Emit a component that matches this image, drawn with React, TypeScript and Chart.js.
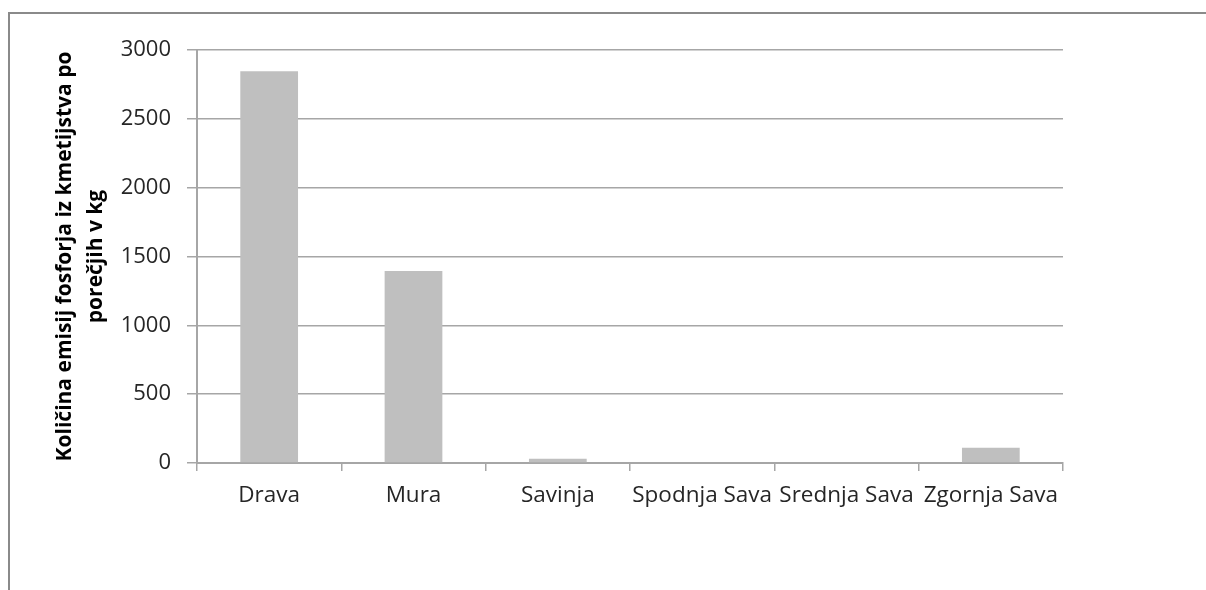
import React, { useEffect, useRef } from "react";
import { Chart, registerables } from "chart.js";

Chart.register(...registerables);

const categories = ["Drava", "Mura", "Savinja", "Spodnja Sava", "Srednja Sava", "Zgornja Sava"];
const emissions = [2845, 1395, 30, 0, 0, 110];
const yTitle = ["Količina emisij fosforja iz kmetijstva po", "porečjih v kg"];
const yMin = 0;
const yMax = 3000;
const yStep = 500;

export default function App() {
  const ref = useRef<HTMLCanvasElement | null>(null);

  useEffect(() => {
    document.body.style.margin = "0";
    const canvas = ref.current;
    if (!canvas) return;
    const chart = new Chart(canvas, {
      type: "bar",
      data: {
        labels: categories,
        datasets: [
          {
            data: emissions,
            backgroundColor: "#bfbfbf",
            borderWidth: 0,
            barPercentage: 0.4,
            categoryPercentage: 1,
          },
        ],
      },
      options: {
        responsive: false,
        animation: false,
        layout: { padding: { top: 50, right: 143, left: 0, bottom: 0 } },
        plugins: { legend: { display: false }, tooltip: { enabled: false }, title: { display: false } },
        scales: {
          x: {
            grid: {
              display: true,
              drawOnChartArea: false,
              drawTicks: true,
              tickLength: 8,
              color: "#a6a6a6",
              lineWidth: 1.5,
              offset: true,
            },
            border: { display: true, color: "#a6a6a6", width: 2 },
            ticks: {
              color: "#262626",
              font: { family: "'Open Sans'", size: 22.5 },
              padding: 11,
              maxRotation: 0,
              autoSkip: false,
            },
            afterFit: (scale: any) => {
              scale.height = 127;
            },
          },
          y: {
            min: yMin,
            max: yMax,
            grid: {
              color: "#a6a6a6",
              lineWidth: 1.5,
              drawTicks: true,
              tickLength: 10,
            },
            border: { display: true, color: "#a6a6a6", width: 2 },
            ticks: {
              stepSize: yStep,
              color: "#262626",
              font: { family: "'Open Sans'", size: 22 },
              padding: 16,
              callback: (v: any) => String(v),
            },
            title: {
              display: true,
              text: yTitle,
              color: "#000000",
              font: { family: "'Open Sans'", size: 21, weight: "bold", lineHeight: 1.5 },
              padding: { top: 49, bottom: 0 },
            },
            afterFit: (scale: any) => {
              scale.width = 197;
            },
          },
        },
      },
    });
    return () => chart.destroy();
  }, []);

  return (
    <div style={{ position: "relative", width: 1206, height: 590, overflow: "hidden", background: "#fff" }}>
      <div
        style={{
          position: "absolute",
          left: 8,
          top: 12,
          width: 1400,
          height: 800,
          borderTop: "2.5px solid #8a8a8a",
          borderLeft: "2.5px solid #8a8a8a",
        }}
      />
      <canvas ref={ref} width={1206} height={590} style={{ position: "absolute", left: 0, top: 0 }} />
    </div>
  );
}
